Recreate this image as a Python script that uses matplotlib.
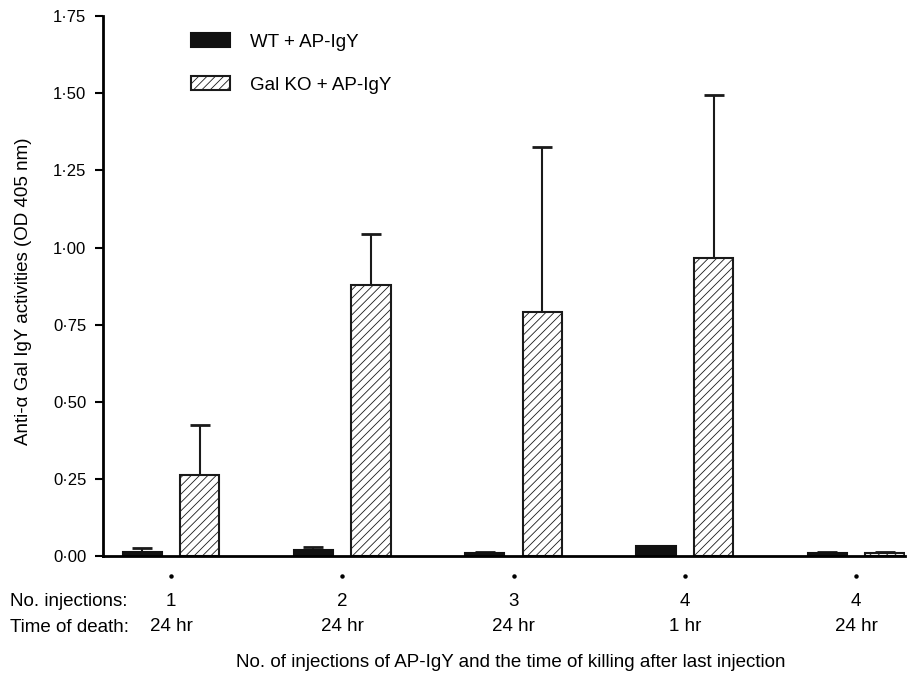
import numpy as np
import matplotlib
matplotlib.use("Agg")
import matplotlib.pyplot as plt

plt.rcParams['font.family'] = ['Liberation Sans', 'DejaVu Sans']
plt.rcParams['hatch.linewidth'] = 0.6

# dados
injections = ["1", "2", "3", "4", "4"]
time_of_death = ["24 hr", "24 hr", "24 hr", "1 hr", "24 hr"]
wt_mean = [0.013, 0.019, 0.010, 0.032, 0.010]
wt_top = [0.025, 0.030, 0.012, 0.034, 0.012]   # topo da barra de erro
ko_mean = [0.262, 0.878, 0.790, 0.967, 0.011]
ko_top = [0.426, 1.044, 1.326, 1.495, 0.013]
yticks = [0.0, 0.25, 0.50, 0.75, 1.00, 1.25, 1.50, 1.75]

x = np.arange(len(injections))
largura = 0.23
desloc = 0.168
fs = 13.5  # tamanho dos textos

wt_err = np.array(wt_top) - np.array(wt_mean)
ko_err = np.array(ko_top) - np.array(ko_mean)

fig = plt.figure(figsize=(9.17, 6.76), dpi=100)
ax = fig.add_axes([0.1123, 0.1775, 0.8747, 0.7985])

ax.bar(x - desloc, wt_mean, largura, color="#111111", edgecolor="#111111",
       linewidth=1.5, label="WT + AP-IgY", zorder=2)
ax.bar(x + desloc, ko_mean, largura, color="white", edgecolor="#1a1a1a",
       hatch="////", linewidth=1.5, label="Gal KO + AP-IgY", zorder=2)

# só a parte de cima do erro
ax.errorbar(x - desloc, wt_mean, yerr=[np.zeros(len(x)), wt_err], fmt="none",
            ecolor="#1a1a1a", elinewidth=1.5, capsize=7, capthick=2, zorder=1)
ax.errorbar(x + desloc, ko_mean, yerr=[np.zeros(len(x)), ko_err], fmt="none",
            ecolor="#1a1a1a", elinewidth=1.5, capsize=7, capthick=2, zorder=1)

ax.set_xlim(-0.397, 4.286)
ax.set_ylim(0, 1.75)
ax.set_yticks(yticks)
ax.set_yticklabels([f"{v:.2f}".replace(".", "\u00b7") for v in yticks])
ax.tick_params(axis="y", direction="out", length=6, width=1.5, pad=6, labelsize=12)
ax.set_xticks([])

for s in ["top", "right"]:
    ax.spines[s].set_visible(False)
ax.spines["left"].set_linewidth(2)
ax.spines["bottom"].set_linewidth(2)

# pontinhos e rótulos embaixo de cada grupo
trans = ax.get_xaxis_transform()
ax.plot(x, [-0.037] * len(x), ls="none", marker="o", markersize=2.2,
        color="black", transform=trans, clip_on=False)
for xi, n, t in zip(x, injections, time_of_death):
    ax.text(xi, -0.085, n, transform=trans, ha="center", va="center", fontsize=fs)
    ax.text(xi, -0.130, t, transform=trans, ha="center", va="center", fontsize=fs)
fig.text(10 / 917, 1 - 602 / 676, "No. injections:", ha="left", va="center", fontsize=fs)
fig.text(10 / 917, 1 - 627 / 676, "Time of death:", ha="left", va="center", fontsize=fs)

ax.set_xlabel("No. of injections of AP-IgY and the time of killing after last injection",
              fontsize=fs)
ax.xaxis.set_label_coords(0.508, -0.182)
ax.set_ylabel("Anti-\u03b1 Gal IgY activities (OD 405 nm)", fontsize=fs)
ax.yaxis.set_label_coords(-0.089, 0.49)

ax.legend(loc="upper left", bbox_to_anchor=(0.1, 0.982), frameon=False,
          fontsize=fs, handlelength=2.1, handleheight=0.75, handletextpad=1.05,
          labelspacing=1.35, borderaxespad=0)

fig.savefig("out.png", dpi=100)
